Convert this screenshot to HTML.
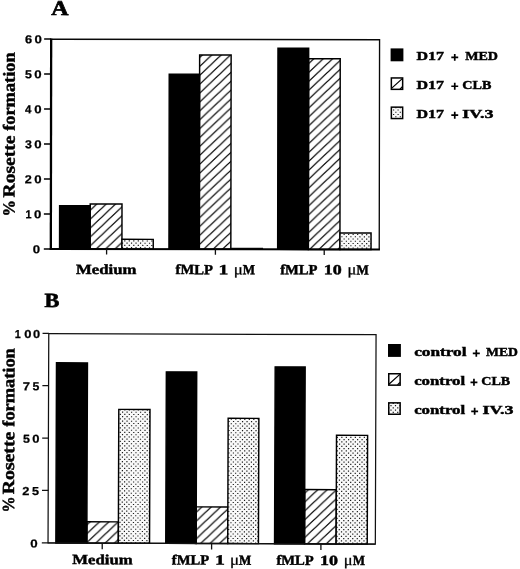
<!DOCTYPE html>
<html><head><meta charset="utf-8"><title>Rosette formation</title>
<style>
html,body{margin:0;padding:0;background:#fff;}
body{width:520px;height:569px;overflow:hidden;font-family:"Liberation Serif",serif;}
svg{display:block;position:absolute;left:0;top:0;}
.sb{font-family:"Liberation Serif",serif;font-weight:bold;fill:#000;stroke:#000;stroke-width:0.45px;}
.sr{font-family:"Liberation Serif",serif;font-weight:normal;fill:#000;stroke:#000;stroke-width:0.3px;}
.tk{font-family:"Liberation Sans",sans-serif;font-weight:bold;fill:#000;stroke:#000;stroke-width:0.25px;}
</style></head><body>
<svg width="520" height="569" viewBox="0 0 520 569" style="will-change:transform">
<defs>
<pattern id="h1" patternUnits="userSpaceOnUse" x="91.6" y="209" width="9.368" height="8.900">
<rect x="-1" y="-1" width="12" height="11" fill="#fff"/>
<path d="M-2,10.800 L11.368,-1.900 M-2,1.900 L2,-1.900 M7.368,10.800 L11.368,7.000" stroke="#000" stroke-width="1.25" fill="none"/>
</pattern>
<pattern id="h2" patternUnits="userSpaceOnUse" x="200" y="65.8" width="9.368" height="8.900">
<rect x="-1" y="-1" width="12" height="11" fill="#fff"/>
<path d="M-2,10.800 L11.368,-1.900 M-2,1.900 L2,-1.900 M7.368,10.800 L11.368,7.000" stroke="#000" stroke-width="1.25" fill="none"/>
</pattern>
<pattern id="h3" patternUnits="userSpaceOnUse" x="309.1" y="62.7" width="9.368" height="8.900">
<rect x="-1" y="-1" width="12" height="11" fill="#fff"/>
<path d="M-2,10.800 L11.368,-1.900 M-2,1.900 L2,-1.900 M7.368,10.800 L11.368,7.000" stroke="#000" stroke-width="1.25" fill="none"/>
</pattern>
<pattern id="h4" patternUnits="userSpaceOnUse" x="87.7" y="533.1" width="9.368" height="8.900">
<rect x="-1" y="-1" width="12" height="11" fill="#fff"/>
<path d="M-2,10.800 L11.368,-1.900 M-2,1.900 L2,-1.900 M7.368,10.800 L11.368,7.000" stroke="#000" stroke-width="1.25" fill="none"/>
</pattern>
<pattern id="h5" patternUnits="userSpaceOnUse" x="197" y="529" width="9.368" height="8.900">
<rect x="-1" y="-1" width="12" height="11" fill="#fff"/>
<path d="M-2,10.800 L11.368,-1.900 M-2,1.900 L2,-1.900 M7.368,10.800 L11.368,7.000" stroke="#000" stroke-width="1.25" fill="none"/>
</pattern>
<pattern id="h6" patternUnits="userSpaceOnUse" x="305.8" y="500.3" width="9.368" height="8.900">
<rect x="-1" y="-1" width="12" height="11" fill="#fff"/>
<path d="M-2,10.800 L11.368,-1.900 M-2,1.900 L2,-1.900 M7.368,10.800 L11.368,7.000" stroke="#000" stroke-width="1.25" fill="none"/>
</pattern>
<pattern id="dots" patternUnits="userSpaceOnUse" x="343.7" y="233.9" width="9" height="9">
<rect x="-1" y="-1" width="11" height="11" fill="#f6f6f6"/>
<g fill="#2a2a2a">
<rect x="0" y="0" width="1.25" height="1.25"/><rect x="4.5" y="0" width="1.25" height="1.25"/>
<rect x="2.25" y="2.25" width="1.25" height="1.25"/><rect x="6.75" y="2.25" width="1.25" height="1.25"/>
<rect x="0" y="4.5" width="1.25" height="1.25"/><rect x="4.5" y="4.5" width="1.25" height="1.25"/>
<rect x="2.25" y="6.75" width="1.25" height="1.25"/><rect x="6.75" y="6.75" width="1.25" height="1.25"/>
</g>
</pattern>
</defs>
<rect width="520" height="569" fill="#fff"/>

<g transform="rotate(0.09 51 144)">
<path d="M51.2,39.2 H379.4 V249" stroke="#080808" stroke-width="1.35" fill="none"/>
<rect x="90.3" y="203.84" width="31.8" height="45.16" fill="url(#h1)" stroke="#000" stroke-width="1.45"/>
<clipPath id="c1"><rect x="122.1" y="239.19" width="31.3" height="9.81"/></clipPath>
<rect x="122.1" y="239.19" width="31.3" height="9.81" fill="#f9f9f9"/>
<path clip-path="url(#c1)" fill="#1a1a1a" d="M124.35,240.23h1.2v1.2h-1.2zM128.85,240.23h1.2v1.2h-1.2zM133.35,240.23h1.2v1.2h-1.2zM137.85,240.23h1.2v1.2h-1.2zM142.35,240.23h1.2v1.2h-1.2zM146.85,240.23h1.2v1.2h-1.2zM151.35,240.23h1.2v1.2h-1.2zM122.1,242.48h1.2v1.2h-1.2zM126.6,242.48h1.2v1.2h-1.2zM131.1,242.48h1.2v1.2h-1.2zM135.6,242.48h1.2v1.2h-1.2zM140.1,242.48h1.2v1.2h-1.2zM144.6,242.48h1.2v1.2h-1.2zM149.1,242.48h1.2v1.2h-1.2zM124.35,244.73h1.2v1.2h-1.2zM128.85,244.73h1.2v1.2h-1.2zM133.35,244.73h1.2v1.2h-1.2zM137.85,244.73h1.2v1.2h-1.2zM142.35,244.73h1.2v1.2h-1.2zM146.85,244.73h1.2v1.2h-1.2zM151.35,244.73h1.2v1.2h-1.2zM122.1,246.98h1.2v1.2h-1.2zM126.6,246.98h1.2v1.2h-1.2zM131.1,246.98h1.2v1.2h-1.2zM135.6,246.98h1.2v1.2h-1.2zM140.1,246.98h1.2v1.2h-1.2zM144.6,246.98h1.2v1.2h-1.2zM149.1,246.98h1.2v1.2h-1.2z"/>
<rect x="122.1" y="239.19" width="31.3" height="9.81" fill="none" stroke="#000" stroke-width="1.45"/>
<rect x="59.73" y="205.69" width="30.57" height="43.31" fill="#000" stroke="#000" stroke-width="1.45"/>
<rect x="199.5" y="54.67" width="31.5" height="194.33" fill="url(#h2)" stroke="#000" stroke-width="1.45"/>
<rect x="230.28" y="247.4" width="32.95" height="1.4" fill="#111"/>
<rect x="169.12" y="73.92" width="30.37" height="175.08" fill="#000" stroke="#000" stroke-width="1.45"/>
<rect x="308.5" y="58.3" width="31.6" height="190.7" fill="url(#h3)" stroke="#000" stroke-width="1.45"/>
<clipPath id="c2"><rect x="340.1" y="232.55" width="31.1" height="16.45"/></clipPath>
<rect x="340.1" y="232.55" width="31.1" height="16.45" fill="#f9f9f9"/>
<path clip-path="url(#c2)" fill="#1a1a1a" d="M339.2,233.44h1.2v1.2h-1.2zM343.7,233.44h1.2v1.2h-1.2zM348.2,233.44h1.2v1.2h-1.2zM352.7,233.44h1.2v1.2h-1.2zM357.2,233.44h1.2v1.2h-1.2zM361.7,233.44h1.2v1.2h-1.2zM366.2,233.44h1.2v1.2h-1.2zM370.7,233.44h1.2v1.2h-1.2zM341.45,235.69h1.2v1.2h-1.2zM345.95,235.69h1.2v1.2h-1.2zM350.45,235.69h1.2v1.2h-1.2zM354.95,235.69h1.2v1.2h-1.2zM359.45,235.69h1.2v1.2h-1.2zM363.95,235.69h1.2v1.2h-1.2zM368.45,235.69h1.2v1.2h-1.2zM339.2,237.94h1.2v1.2h-1.2zM343.7,237.94h1.2v1.2h-1.2zM348.2,237.94h1.2v1.2h-1.2zM352.7,237.94h1.2v1.2h-1.2zM357.2,237.94h1.2v1.2h-1.2zM361.7,237.94h1.2v1.2h-1.2zM366.2,237.94h1.2v1.2h-1.2zM370.7,237.94h1.2v1.2h-1.2zM341.45,240.19h1.2v1.2h-1.2zM345.95,240.19h1.2v1.2h-1.2zM350.45,240.19h1.2v1.2h-1.2zM354.95,240.19h1.2v1.2h-1.2zM359.45,240.19h1.2v1.2h-1.2zM363.95,240.19h1.2v1.2h-1.2zM368.45,240.19h1.2v1.2h-1.2zM339.2,242.44h1.2v1.2h-1.2zM343.7,242.44h1.2v1.2h-1.2zM348.2,242.44h1.2v1.2h-1.2zM352.7,242.44h1.2v1.2h-1.2zM357.2,242.44h1.2v1.2h-1.2zM361.7,242.44h1.2v1.2h-1.2zM366.2,242.44h1.2v1.2h-1.2zM370.7,242.44h1.2v1.2h-1.2zM341.45,244.69h1.2v1.2h-1.2zM345.95,244.69h1.2v1.2h-1.2zM350.45,244.69h1.2v1.2h-1.2zM354.95,244.69h1.2v1.2h-1.2zM359.45,244.69h1.2v1.2h-1.2zM363.95,244.69h1.2v1.2h-1.2zM368.45,244.69h1.2v1.2h-1.2zM339.2,246.94h1.2v1.2h-1.2zM343.7,246.94h1.2v1.2h-1.2zM348.2,246.94h1.2v1.2h-1.2zM352.7,246.94h1.2v1.2h-1.2zM357.2,246.94h1.2v1.2h-1.2zM361.7,246.94h1.2v1.2h-1.2zM366.2,246.94h1.2v1.2h-1.2zM370.7,246.94h1.2v1.2h-1.2z"/>
<rect x="340.1" y="232.55" width="31.1" height="16.45" fill="none" stroke="#000" stroke-width="1.45"/>
<rect x="277.83" y="47.84" width="30.68" height="201.16" fill="#000" stroke="#000" stroke-width="1.45"/>
<rect x="49.85" y="38.4" width="2.3" height="211.6" fill="#000"/>
<rect x="49.9" y="247.9" width="330.2" height="2.1" fill="#000"/>
<rect x="44" y="248.2" width="7" height="1.6" fill="#000"/>
<text transform="translate(32.84,253.35) scale(1.1475,1)" class="tk" font-size="11.5">0</text>
<rect x="44" y="213.2" width="7" height="1.6" fill="#000"/>
<text transform="translate(25.55,218.35) scale(0.9436,1)" class="tk" font-size="11.5">1</text>
<text transform="translate(34.24,218.35) scale(1.1475,1)" class="tk" font-size="11.5">0</text>
<rect x="44" y="178.2" width="7" height="1.6" fill="#000"/>
<text transform="translate(24.82,183.35) scale(1.1003,1)" class="tk" font-size="11.5">2</text>
<text transform="translate(34.24,183.35) scale(1.1475,1)" class="tk" font-size="11.5">0</text>
<rect x="44" y="143.2" width="7" height="1.6" fill="#000"/>
<text transform="translate(24.95,148.35) scale(1.0783,1)" class="tk" font-size="11.5">3</text>
<text transform="translate(34.24,148.35) scale(1.1475,1)" class="tk" font-size="11.5">0</text>
<rect x="44" y="108.2" width="7" height="1.6" fill="#000"/>
<text transform="translate(25.03,113.35) scale(0.9984,1)" class="tk" font-size="11.5">4</text>
<text transform="translate(34.24,113.35) scale(1.1475,1)" class="tk" font-size="11.5">0</text>
<rect x="44" y="73.2" width="7" height="1.6" fill="#000"/>
<text transform="translate(24.83,78.35) scale(1.0783,1)" class="tk" font-size="11.5">5</text>
<text transform="translate(34.24,78.35) scale(1.1475,1)" class="tk" font-size="11.5">0</text>
<rect x="44" y="38.2" width="7" height="1.6" fill="#000"/>
<text transform="translate(24.75,43.35) scale(1.1116,1)" class="tk" font-size="11.5">6</text>
<text transform="translate(34.24,43.35) scale(1.1475,1)" class="tk" font-size="11.5">0</text>
<rect x="106.1" y="249" width="1.3" height="5.5" fill="#111"/>
<rect x="214.95" y="249" width="1.3" height="5.5" fill="#111"/>
<rect x="323.75" y="249" width="1.3" height="5.5" fill="#111"/>
<text transform="translate(50.98,15) scale(1.1335,1)" class="sb" font-size="21" style="stroke-width:0.7px">A</text>
<text transform="translate(76.25,273.9) scale(1.1955,1)" class="sb" font-size="14">Medium</text>
<text transform="translate(175.73,273.9) scale(1.0438,1)" class="sb" font-size="14">fMLP</text>
<text transform="translate(218.82,273.9) scale(1.4093,1)" class="sb" font-size="14">1</text>
<text transform="translate(234.05,273.9) scale(1.0906,1)" class="sr" font-size="15.5">μ</text>
<text transform="translate(243,273.9) scale(0.9313,1)" class="sb" font-size="14">M</text>
<text transform="translate(280.33,273.9) scale(1.0438,1)" class="sb" font-size="14">fMLP</text>
<text transform="translate(323.96,273.9) scale(1.2833,1)" class="sb" font-size="14">10</text>
<text transform="translate(347.69,273.9) scale(1.0599,1)" class="sr" font-size="15.5">μ</text>
<text transform="translate(356.7,273.9) scale(0.9313,1)" class="sb" font-size="14">M</text>
<text transform="translate(14.7,216.55) rotate(-90) scale(0.9731,1)" class="sb" font-size="17">%</text>
<text transform="translate(14.7,197.49) rotate(-90) scale(1.1501,1)" class="sb" font-size="17">Rosette</text>
<text transform="translate(14.7,130.89) rotate(-90) scale(1.0812,1)" class="sb" font-size="17">formation</text>
</g>
<rect x="390.6" y="48.4" width="12.8" height="12.9" fill="#000"/>
<text transform="translate(416.56,60.1) scale(1.2139,1)" class="sb" font-size="13.2">D17</text>
<path d="M451.3,56.55h6.9v1.7h-6.9z M453.9,53.95h1.7v6.9h-1.7z" fill="#000"/>
<text transform="translate(465.19,60.1) scale(1.0679,1)" class="sb" font-size="13.2">MED</text>
<rect x="391.35" y="77.95" width="11.3" height="11.4" fill="#fff" stroke="#000" stroke-width="1.5"/>
<path d="M391.5,88.4 L402.3,78.6 M400,89.1 L402.4,86.7" stroke="#000" stroke-width="1.25"/>
<text transform="translate(416.56,88.95) scale(1.2139,1)" class="sb" font-size="13.2">D17</text>
<path d="M451.3,85.4h6.9v1.7h-6.9z M453.9,82.8h1.7v6.9h-1.7z" fill="#000"/>
<text transform="translate(462.26,88.95) scale(1.0724,1)" class="sb" font-size="13.2">CLB</text>
<clipPath id="c3"><rect x="391.35" y="107.15" width="11.3" height="11.4"/></clipPath>
<rect x="391.35" y="107.15" width="11.3" height="11.4" fill="#f9f9f9"/>
<path clip-path="url(#c3)" fill="#1a1a1a" d="M390.75,107.15h1.2v1.2h-1.2zM395.25,107.15h1.2v1.2h-1.2zM399.75,107.15h1.2v1.2h-1.2zM393,109.4h1.2v1.2h-1.2zM397.5,109.4h1.2v1.2h-1.2zM402,109.4h1.2v1.2h-1.2zM390.75,111.65h1.2v1.2h-1.2zM395.25,111.65h1.2v1.2h-1.2zM399.75,111.65h1.2v1.2h-1.2zM393,113.9h1.2v1.2h-1.2zM397.5,113.9h1.2v1.2h-1.2zM402,113.9h1.2v1.2h-1.2zM390.75,116.15h1.2v1.2h-1.2zM395.25,116.15h1.2v1.2h-1.2zM399.75,116.15h1.2v1.2h-1.2zM393,118.4h1.2v1.2h-1.2zM397.5,118.4h1.2v1.2h-1.2zM402,118.4h1.2v1.2h-1.2z"/>
<rect x="391.35" y="107.15" width="11.3" height="11.4" fill="none" stroke="#000" stroke-width="1.5"/>
<text transform="translate(416.56,117.9) scale(1.2139,1)" class="sb" font-size="13.2">D17</text>
<path d="M451.3,114.35h6.9v1.7h-6.9z M453.9,111.75h1.7v6.9h-1.7z" fill="#000"/>
<text transform="translate(462.36,117.9) scale(1.3609,1)" class="sb" font-size="13.2">IV.3</text>
<g transform="rotate(0.2 48 438)">
<rect x="48.4" y="333.6" width="327.3" height="209.4" fill="none" stroke="#111" stroke-width="1.25"/>
<rect x="87.2" y="521.63" width="31.5" height="21.27" fill="url(#h4)" stroke="#000" stroke-width="1.45"/>
<clipPath id="c4"><rect x="118.7" y="409.12" width="31.2" height="133.78"/></clipPath>
<rect x="118.7" y="409.12" width="31.2" height="133.78" fill="#f9f9f9"/>
<path clip-path="url(#c4)" fill="#1a1a1a" d="M119.65,409.09h1.2v1.2h-1.2zM124.15,409.09h1.2v1.2h-1.2zM128.65,409.09h1.2v1.2h-1.2zM133.15,409.09h1.2v1.2h-1.2zM137.65,409.09h1.2v1.2h-1.2zM142.15,409.09h1.2v1.2h-1.2zM146.65,409.09h1.2v1.2h-1.2zM121.9,411.34h1.2v1.2h-1.2zM126.4,411.34h1.2v1.2h-1.2zM130.9,411.34h1.2v1.2h-1.2zM135.4,411.34h1.2v1.2h-1.2zM139.9,411.34h1.2v1.2h-1.2zM144.4,411.34h1.2v1.2h-1.2zM148.9,411.34h1.2v1.2h-1.2zM119.65,413.59h1.2v1.2h-1.2zM124.15,413.59h1.2v1.2h-1.2zM128.65,413.59h1.2v1.2h-1.2zM133.15,413.59h1.2v1.2h-1.2zM137.65,413.59h1.2v1.2h-1.2zM142.15,413.59h1.2v1.2h-1.2zM146.65,413.59h1.2v1.2h-1.2zM121.9,415.84h1.2v1.2h-1.2zM126.4,415.84h1.2v1.2h-1.2zM130.9,415.84h1.2v1.2h-1.2zM135.4,415.84h1.2v1.2h-1.2zM139.9,415.84h1.2v1.2h-1.2zM144.4,415.84h1.2v1.2h-1.2zM148.9,415.84h1.2v1.2h-1.2zM119.65,418.09h1.2v1.2h-1.2zM124.15,418.09h1.2v1.2h-1.2zM128.65,418.09h1.2v1.2h-1.2zM133.15,418.09h1.2v1.2h-1.2zM137.65,418.09h1.2v1.2h-1.2zM142.15,418.09h1.2v1.2h-1.2zM146.65,418.09h1.2v1.2h-1.2zM121.9,420.34h1.2v1.2h-1.2zM126.4,420.34h1.2v1.2h-1.2zM130.9,420.34h1.2v1.2h-1.2zM135.4,420.34h1.2v1.2h-1.2zM139.9,420.34h1.2v1.2h-1.2zM144.4,420.34h1.2v1.2h-1.2zM148.9,420.34h1.2v1.2h-1.2zM119.65,422.59h1.2v1.2h-1.2zM124.15,422.59h1.2v1.2h-1.2zM128.65,422.59h1.2v1.2h-1.2zM133.15,422.59h1.2v1.2h-1.2zM137.65,422.59h1.2v1.2h-1.2zM142.15,422.59h1.2v1.2h-1.2zM146.65,422.59h1.2v1.2h-1.2zM121.9,424.84h1.2v1.2h-1.2zM126.4,424.84h1.2v1.2h-1.2zM130.9,424.84h1.2v1.2h-1.2zM135.4,424.84h1.2v1.2h-1.2zM139.9,424.84h1.2v1.2h-1.2zM144.4,424.84h1.2v1.2h-1.2zM148.9,424.84h1.2v1.2h-1.2zM119.65,427.09h1.2v1.2h-1.2zM124.15,427.09h1.2v1.2h-1.2zM128.65,427.09h1.2v1.2h-1.2zM133.15,427.09h1.2v1.2h-1.2zM137.65,427.09h1.2v1.2h-1.2zM142.15,427.09h1.2v1.2h-1.2zM146.65,427.09h1.2v1.2h-1.2zM121.9,429.34h1.2v1.2h-1.2zM126.4,429.34h1.2v1.2h-1.2zM130.9,429.34h1.2v1.2h-1.2zM135.4,429.34h1.2v1.2h-1.2zM139.9,429.34h1.2v1.2h-1.2zM144.4,429.34h1.2v1.2h-1.2zM148.9,429.34h1.2v1.2h-1.2zM119.65,431.59h1.2v1.2h-1.2zM124.15,431.59h1.2v1.2h-1.2zM128.65,431.59h1.2v1.2h-1.2zM133.15,431.59h1.2v1.2h-1.2zM137.65,431.59h1.2v1.2h-1.2zM142.15,431.59h1.2v1.2h-1.2zM146.65,431.59h1.2v1.2h-1.2zM121.9,433.84h1.2v1.2h-1.2zM126.4,433.84h1.2v1.2h-1.2zM130.9,433.84h1.2v1.2h-1.2zM135.4,433.84h1.2v1.2h-1.2zM139.9,433.84h1.2v1.2h-1.2zM144.4,433.84h1.2v1.2h-1.2zM148.9,433.84h1.2v1.2h-1.2zM119.65,436.09h1.2v1.2h-1.2zM124.15,436.09h1.2v1.2h-1.2zM128.65,436.09h1.2v1.2h-1.2zM133.15,436.09h1.2v1.2h-1.2zM137.65,436.09h1.2v1.2h-1.2zM142.15,436.09h1.2v1.2h-1.2zM146.65,436.09h1.2v1.2h-1.2zM121.9,438.34h1.2v1.2h-1.2zM126.4,438.34h1.2v1.2h-1.2zM130.9,438.34h1.2v1.2h-1.2zM135.4,438.34h1.2v1.2h-1.2zM139.9,438.34h1.2v1.2h-1.2zM144.4,438.34h1.2v1.2h-1.2zM148.9,438.34h1.2v1.2h-1.2zM119.65,440.59h1.2v1.2h-1.2zM124.15,440.59h1.2v1.2h-1.2zM128.65,440.59h1.2v1.2h-1.2zM133.15,440.59h1.2v1.2h-1.2zM137.65,440.59h1.2v1.2h-1.2zM142.15,440.59h1.2v1.2h-1.2zM146.65,440.59h1.2v1.2h-1.2zM121.9,442.84h1.2v1.2h-1.2zM126.4,442.84h1.2v1.2h-1.2zM130.9,442.84h1.2v1.2h-1.2zM135.4,442.84h1.2v1.2h-1.2zM139.9,442.84h1.2v1.2h-1.2zM144.4,442.84h1.2v1.2h-1.2zM148.9,442.84h1.2v1.2h-1.2zM119.65,445.09h1.2v1.2h-1.2zM124.15,445.09h1.2v1.2h-1.2zM128.65,445.09h1.2v1.2h-1.2zM133.15,445.09h1.2v1.2h-1.2zM137.65,445.09h1.2v1.2h-1.2zM142.15,445.09h1.2v1.2h-1.2zM146.65,445.09h1.2v1.2h-1.2zM121.9,447.34h1.2v1.2h-1.2zM126.4,447.34h1.2v1.2h-1.2zM130.9,447.34h1.2v1.2h-1.2zM135.4,447.34h1.2v1.2h-1.2zM139.9,447.34h1.2v1.2h-1.2zM144.4,447.34h1.2v1.2h-1.2zM148.9,447.34h1.2v1.2h-1.2zM119.65,449.59h1.2v1.2h-1.2zM124.15,449.59h1.2v1.2h-1.2zM128.65,449.59h1.2v1.2h-1.2zM133.15,449.59h1.2v1.2h-1.2zM137.65,449.59h1.2v1.2h-1.2zM142.15,449.59h1.2v1.2h-1.2zM146.65,449.59h1.2v1.2h-1.2zM121.9,451.84h1.2v1.2h-1.2zM126.4,451.84h1.2v1.2h-1.2zM130.9,451.84h1.2v1.2h-1.2zM135.4,451.84h1.2v1.2h-1.2zM139.9,451.84h1.2v1.2h-1.2zM144.4,451.84h1.2v1.2h-1.2zM148.9,451.84h1.2v1.2h-1.2zM119.65,454.09h1.2v1.2h-1.2zM124.15,454.09h1.2v1.2h-1.2zM128.65,454.09h1.2v1.2h-1.2zM133.15,454.09h1.2v1.2h-1.2zM137.65,454.09h1.2v1.2h-1.2zM142.15,454.09h1.2v1.2h-1.2zM146.65,454.09h1.2v1.2h-1.2zM121.9,456.34h1.2v1.2h-1.2zM126.4,456.34h1.2v1.2h-1.2zM130.9,456.34h1.2v1.2h-1.2zM135.4,456.34h1.2v1.2h-1.2zM139.9,456.34h1.2v1.2h-1.2zM144.4,456.34h1.2v1.2h-1.2zM148.9,456.34h1.2v1.2h-1.2zM119.65,458.59h1.2v1.2h-1.2zM124.15,458.59h1.2v1.2h-1.2zM128.65,458.59h1.2v1.2h-1.2zM133.15,458.59h1.2v1.2h-1.2zM137.65,458.59h1.2v1.2h-1.2zM142.15,458.59h1.2v1.2h-1.2zM146.65,458.59h1.2v1.2h-1.2zM121.9,460.84h1.2v1.2h-1.2zM126.4,460.84h1.2v1.2h-1.2zM130.9,460.84h1.2v1.2h-1.2zM135.4,460.84h1.2v1.2h-1.2zM139.9,460.84h1.2v1.2h-1.2zM144.4,460.84h1.2v1.2h-1.2zM148.9,460.84h1.2v1.2h-1.2zM119.65,463.09h1.2v1.2h-1.2zM124.15,463.09h1.2v1.2h-1.2zM128.65,463.09h1.2v1.2h-1.2zM133.15,463.09h1.2v1.2h-1.2zM137.65,463.09h1.2v1.2h-1.2zM142.15,463.09h1.2v1.2h-1.2zM146.65,463.09h1.2v1.2h-1.2zM121.9,465.34h1.2v1.2h-1.2zM126.4,465.34h1.2v1.2h-1.2zM130.9,465.34h1.2v1.2h-1.2zM135.4,465.34h1.2v1.2h-1.2zM139.9,465.34h1.2v1.2h-1.2zM144.4,465.34h1.2v1.2h-1.2zM148.9,465.34h1.2v1.2h-1.2zM119.65,467.59h1.2v1.2h-1.2zM124.15,467.59h1.2v1.2h-1.2zM128.65,467.59h1.2v1.2h-1.2zM133.15,467.59h1.2v1.2h-1.2zM137.65,467.59h1.2v1.2h-1.2zM142.15,467.59h1.2v1.2h-1.2zM146.65,467.59h1.2v1.2h-1.2zM121.9,469.84h1.2v1.2h-1.2zM126.4,469.84h1.2v1.2h-1.2zM130.9,469.84h1.2v1.2h-1.2zM135.4,469.84h1.2v1.2h-1.2zM139.9,469.84h1.2v1.2h-1.2zM144.4,469.84h1.2v1.2h-1.2zM148.9,469.84h1.2v1.2h-1.2zM119.65,472.09h1.2v1.2h-1.2zM124.15,472.09h1.2v1.2h-1.2zM128.65,472.09h1.2v1.2h-1.2zM133.15,472.09h1.2v1.2h-1.2zM137.65,472.09h1.2v1.2h-1.2zM142.15,472.09h1.2v1.2h-1.2zM146.65,472.09h1.2v1.2h-1.2zM121.9,474.34h1.2v1.2h-1.2zM126.4,474.34h1.2v1.2h-1.2zM130.9,474.34h1.2v1.2h-1.2zM135.4,474.34h1.2v1.2h-1.2zM139.9,474.34h1.2v1.2h-1.2zM144.4,474.34h1.2v1.2h-1.2zM148.9,474.34h1.2v1.2h-1.2zM119.65,476.59h1.2v1.2h-1.2zM124.15,476.59h1.2v1.2h-1.2zM128.65,476.59h1.2v1.2h-1.2zM133.15,476.59h1.2v1.2h-1.2zM137.65,476.59h1.2v1.2h-1.2zM142.15,476.59h1.2v1.2h-1.2zM146.65,476.59h1.2v1.2h-1.2zM121.9,478.84h1.2v1.2h-1.2zM126.4,478.84h1.2v1.2h-1.2zM130.9,478.84h1.2v1.2h-1.2zM135.4,478.84h1.2v1.2h-1.2zM139.9,478.84h1.2v1.2h-1.2zM144.4,478.84h1.2v1.2h-1.2zM148.9,478.84h1.2v1.2h-1.2zM119.65,481.09h1.2v1.2h-1.2zM124.15,481.09h1.2v1.2h-1.2zM128.65,481.09h1.2v1.2h-1.2zM133.15,481.09h1.2v1.2h-1.2zM137.65,481.09h1.2v1.2h-1.2zM142.15,481.09h1.2v1.2h-1.2zM146.65,481.09h1.2v1.2h-1.2zM121.9,483.34h1.2v1.2h-1.2zM126.4,483.34h1.2v1.2h-1.2zM130.9,483.34h1.2v1.2h-1.2zM135.4,483.34h1.2v1.2h-1.2zM139.9,483.34h1.2v1.2h-1.2zM144.4,483.34h1.2v1.2h-1.2zM148.9,483.34h1.2v1.2h-1.2zM119.65,485.59h1.2v1.2h-1.2zM124.15,485.59h1.2v1.2h-1.2zM128.65,485.59h1.2v1.2h-1.2zM133.15,485.59h1.2v1.2h-1.2zM137.65,485.59h1.2v1.2h-1.2zM142.15,485.59h1.2v1.2h-1.2zM146.65,485.59h1.2v1.2h-1.2zM121.9,487.84h1.2v1.2h-1.2zM126.4,487.84h1.2v1.2h-1.2zM130.9,487.84h1.2v1.2h-1.2zM135.4,487.84h1.2v1.2h-1.2zM139.9,487.84h1.2v1.2h-1.2zM144.4,487.84h1.2v1.2h-1.2zM148.9,487.84h1.2v1.2h-1.2zM119.65,490.09h1.2v1.2h-1.2zM124.15,490.09h1.2v1.2h-1.2zM128.65,490.09h1.2v1.2h-1.2zM133.15,490.09h1.2v1.2h-1.2zM137.65,490.09h1.2v1.2h-1.2zM142.15,490.09h1.2v1.2h-1.2zM146.65,490.09h1.2v1.2h-1.2zM121.9,492.34h1.2v1.2h-1.2zM126.4,492.34h1.2v1.2h-1.2zM130.9,492.34h1.2v1.2h-1.2zM135.4,492.34h1.2v1.2h-1.2zM139.9,492.34h1.2v1.2h-1.2zM144.4,492.34h1.2v1.2h-1.2zM148.9,492.34h1.2v1.2h-1.2zM119.65,494.59h1.2v1.2h-1.2zM124.15,494.59h1.2v1.2h-1.2zM128.65,494.59h1.2v1.2h-1.2zM133.15,494.59h1.2v1.2h-1.2zM137.65,494.59h1.2v1.2h-1.2zM142.15,494.59h1.2v1.2h-1.2zM146.65,494.59h1.2v1.2h-1.2zM121.9,496.84h1.2v1.2h-1.2zM126.4,496.84h1.2v1.2h-1.2zM130.9,496.84h1.2v1.2h-1.2zM135.4,496.84h1.2v1.2h-1.2zM139.9,496.84h1.2v1.2h-1.2zM144.4,496.84h1.2v1.2h-1.2zM148.9,496.84h1.2v1.2h-1.2zM119.65,499.09h1.2v1.2h-1.2zM124.15,499.09h1.2v1.2h-1.2zM128.65,499.09h1.2v1.2h-1.2zM133.15,499.09h1.2v1.2h-1.2zM137.65,499.09h1.2v1.2h-1.2zM142.15,499.09h1.2v1.2h-1.2zM146.65,499.09h1.2v1.2h-1.2zM121.9,501.34h1.2v1.2h-1.2zM126.4,501.34h1.2v1.2h-1.2zM130.9,501.34h1.2v1.2h-1.2zM135.4,501.34h1.2v1.2h-1.2zM139.9,501.34h1.2v1.2h-1.2zM144.4,501.34h1.2v1.2h-1.2zM148.9,501.34h1.2v1.2h-1.2zM119.65,503.59h1.2v1.2h-1.2zM124.15,503.59h1.2v1.2h-1.2zM128.65,503.59h1.2v1.2h-1.2zM133.15,503.59h1.2v1.2h-1.2zM137.65,503.59h1.2v1.2h-1.2zM142.15,503.59h1.2v1.2h-1.2zM146.65,503.59h1.2v1.2h-1.2zM121.9,505.84h1.2v1.2h-1.2zM126.4,505.84h1.2v1.2h-1.2zM130.9,505.84h1.2v1.2h-1.2zM135.4,505.84h1.2v1.2h-1.2zM139.9,505.84h1.2v1.2h-1.2zM144.4,505.84h1.2v1.2h-1.2zM148.9,505.84h1.2v1.2h-1.2zM119.65,508.09h1.2v1.2h-1.2zM124.15,508.09h1.2v1.2h-1.2zM128.65,508.09h1.2v1.2h-1.2zM133.15,508.09h1.2v1.2h-1.2zM137.65,508.09h1.2v1.2h-1.2zM142.15,508.09h1.2v1.2h-1.2zM146.65,508.09h1.2v1.2h-1.2zM121.9,510.34h1.2v1.2h-1.2zM126.4,510.34h1.2v1.2h-1.2zM130.9,510.34h1.2v1.2h-1.2zM135.4,510.34h1.2v1.2h-1.2zM139.9,510.34h1.2v1.2h-1.2zM144.4,510.34h1.2v1.2h-1.2zM148.9,510.34h1.2v1.2h-1.2zM119.65,512.59h1.2v1.2h-1.2zM124.15,512.59h1.2v1.2h-1.2zM128.65,512.59h1.2v1.2h-1.2zM133.15,512.59h1.2v1.2h-1.2zM137.65,512.59h1.2v1.2h-1.2zM142.15,512.59h1.2v1.2h-1.2zM146.65,512.59h1.2v1.2h-1.2zM121.9,514.84h1.2v1.2h-1.2zM126.4,514.84h1.2v1.2h-1.2zM130.9,514.84h1.2v1.2h-1.2zM135.4,514.84h1.2v1.2h-1.2zM139.9,514.84h1.2v1.2h-1.2zM144.4,514.84h1.2v1.2h-1.2zM148.9,514.84h1.2v1.2h-1.2zM119.65,517.09h1.2v1.2h-1.2zM124.15,517.09h1.2v1.2h-1.2zM128.65,517.09h1.2v1.2h-1.2zM133.15,517.09h1.2v1.2h-1.2zM137.65,517.09h1.2v1.2h-1.2zM142.15,517.09h1.2v1.2h-1.2zM146.65,517.09h1.2v1.2h-1.2zM121.9,519.34h1.2v1.2h-1.2zM126.4,519.34h1.2v1.2h-1.2zM130.9,519.34h1.2v1.2h-1.2zM135.4,519.34h1.2v1.2h-1.2zM139.9,519.34h1.2v1.2h-1.2zM144.4,519.34h1.2v1.2h-1.2zM148.9,519.34h1.2v1.2h-1.2zM119.65,521.59h1.2v1.2h-1.2zM124.15,521.59h1.2v1.2h-1.2zM128.65,521.59h1.2v1.2h-1.2zM133.15,521.59h1.2v1.2h-1.2zM137.65,521.59h1.2v1.2h-1.2zM142.15,521.59h1.2v1.2h-1.2zM146.65,521.59h1.2v1.2h-1.2zM121.9,523.84h1.2v1.2h-1.2zM126.4,523.84h1.2v1.2h-1.2zM130.9,523.84h1.2v1.2h-1.2zM135.4,523.84h1.2v1.2h-1.2zM139.9,523.84h1.2v1.2h-1.2zM144.4,523.84h1.2v1.2h-1.2zM148.9,523.84h1.2v1.2h-1.2zM119.65,526.09h1.2v1.2h-1.2zM124.15,526.09h1.2v1.2h-1.2zM128.65,526.09h1.2v1.2h-1.2zM133.15,526.09h1.2v1.2h-1.2zM137.65,526.09h1.2v1.2h-1.2zM142.15,526.09h1.2v1.2h-1.2zM146.65,526.09h1.2v1.2h-1.2zM121.9,528.34h1.2v1.2h-1.2zM126.4,528.34h1.2v1.2h-1.2zM130.9,528.34h1.2v1.2h-1.2zM135.4,528.34h1.2v1.2h-1.2zM139.9,528.34h1.2v1.2h-1.2zM144.4,528.34h1.2v1.2h-1.2zM148.9,528.34h1.2v1.2h-1.2zM119.65,530.59h1.2v1.2h-1.2zM124.15,530.59h1.2v1.2h-1.2zM128.65,530.59h1.2v1.2h-1.2zM133.15,530.59h1.2v1.2h-1.2zM137.65,530.59h1.2v1.2h-1.2zM142.15,530.59h1.2v1.2h-1.2zM146.65,530.59h1.2v1.2h-1.2zM121.9,532.84h1.2v1.2h-1.2zM126.4,532.84h1.2v1.2h-1.2zM130.9,532.84h1.2v1.2h-1.2zM135.4,532.84h1.2v1.2h-1.2zM139.9,532.84h1.2v1.2h-1.2zM144.4,532.84h1.2v1.2h-1.2zM148.9,532.84h1.2v1.2h-1.2zM119.65,535.09h1.2v1.2h-1.2zM124.15,535.09h1.2v1.2h-1.2zM128.65,535.09h1.2v1.2h-1.2zM133.15,535.09h1.2v1.2h-1.2zM137.65,535.09h1.2v1.2h-1.2zM142.15,535.09h1.2v1.2h-1.2zM146.65,535.09h1.2v1.2h-1.2zM121.9,537.34h1.2v1.2h-1.2zM126.4,537.34h1.2v1.2h-1.2zM130.9,537.34h1.2v1.2h-1.2zM135.4,537.34h1.2v1.2h-1.2zM139.9,537.34h1.2v1.2h-1.2zM144.4,537.34h1.2v1.2h-1.2zM148.9,537.34h1.2v1.2h-1.2zM119.65,539.59h1.2v1.2h-1.2zM124.15,539.59h1.2v1.2h-1.2zM128.65,539.59h1.2v1.2h-1.2zM133.15,539.59h1.2v1.2h-1.2zM137.65,539.59h1.2v1.2h-1.2zM142.15,539.59h1.2v1.2h-1.2zM146.65,539.59h1.2v1.2h-1.2zM121.9,541.84h1.2v1.2h-1.2zM126.4,541.84h1.2v1.2h-1.2zM130.9,541.84h1.2v1.2h-1.2zM135.4,541.84h1.2v1.2h-1.2zM139.9,541.84h1.2v1.2h-1.2zM144.4,541.84h1.2v1.2h-1.2zM148.9,541.84h1.2v1.2h-1.2z"/>
<rect x="118.7" y="409.12" width="31.2" height="133.78" fill="none" stroke="#000" stroke-width="1.45"/>
<rect x="56.23" y="362.74" width="30.97" height="180.16" fill="#000" stroke="#000" stroke-width="1.45"/>
<rect x="196.5" y="506.35" width="31.6" height="36.55" fill="url(#h5)" stroke="#000" stroke-width="1.45"/>
<clipPath id="c5"><rect x="228.1" y="417.64" width="30.7" height="125.26"/></clipPath>
<rect x="228.1" y="417.64" width="30.7" height="125.26" fill="#f9f9f9"/>
<path clip-path="url(#c5)" fill="#1a1a1a" d="M230.65,418h1.2v1.2h-1.2zM235.15,418h1.2v1.2h-1.2zM239.65,418h1.2v1.2h-1.2zM244.15,418h1.2v1.2h-1.2zM248.65,418h1.2v1.2h-1.2zM253.15,418h1.2v1.2h-1.2zM257.65,418h1.2v1.2h-1.2zM228.4,420.25h1.2v1.2h-1.2zM232.9,420.25h1.2v1.2h-1.2zM237.4,420.25h1.2v1.2h-1.2zM241.9,420.25h1.2v1.2h-1.2zM246.4,420.25h1.2v1.2h-1.2zM250.9,420.25h1.2v1.2h-1.2zM255.4,420.25h1.2v1.2h-1.2zM230.65,422.5h1.2v1.2h-1.2zM235.15,422.5h1.2v1.2h-1.2zM239.65,422.5h1.2v1.2h-1.2zM244.15,422.5h1.2v1.2h-1.2zM248.65,422.5h1.2v1.2h-1.2zM253.15,422.5h1.2v1.2h-1.2zM257.65,422.5h1.2v1.2h-1.2zM228.4,424.75h1.2v1.2h-1.2zM232.9,424.75h1.2v1.2h-1.2zM237.4,424.75h1.2v1.2h-1.2zM241.9,424.75h1.2v1.2h-1.2zM246.4,424.75h1.2v1.2h-1.2zM250.9,424.75h1.2v1.2h-1.2zM255.4,424.75h1.2v1.2h-1.2zM230.65,427h1.2v1.2h-1.2zM235.15,427h1.2v1.2h-1.2zM239.65,427h1.2v1.2h-1.2zM244.15,427h1.2v1.2h-1.2zM248.65,427h1.2v1.2h-1.2zM253.15,427h1.2v1.2h-1.2zM257.65,427h1.2v1.2h-1.2zM228.4,429.25h1.2v1.2h-1.2zM232.9,429.25h1.2v1.2h-1.2zM237.4,429.25h1.2v1.2h-1.2zM241.9,429.25h1.2v1.2h-1.2zM246.4,429.25h1.2v1.2h-1.2zM250.9,429.25h1.2v1.2h-1.2zM255.4,429.25h1.2v1.2h-1.2zM230.65,431.5h1.2v1.2h-1.2zM235.15,431.5h1.2v1.2h-1.2zM239.65,431.5h1.2v1.2h-1.2zM244.15,431.5h1.2v1.2h-1.2zM248.65,431.5h1.2v1.2h-1.2zM253.15,431.5h1.2v1.2h-1.2zM257.65,431.5h1.2v1.2h-1.2zM228.4,433.75h1.2v1.2h-1.2zM232.9,433.75h1.2v1.2h-1.2zM237.4,433.75h1.2v1.2h-1.2zM241.9,433.75h1.2v1.2h-1.2zM246.4,433.75h1.2v1.2h-1.2zM250.9,433.75h1.2v1.2h-1.2zM255.4,433.75h1.2v1.2h-1.2zM230.65,436h1.2v1.2h-1.2zM235.15,436h1.2v1.2h-1.2zM239.65,436h1.2v1.2h-1.2zM244.15,436h1.2v1.2h-1.2zM248.65,436h1.2v1.2h-1.2zM253.15,436h1.2v1.2h-1.2zM257.65,436h1.2v1.2h-1.2zM228.4,438.25h1.2v1.2h-1.2zM232.9,438.25h1.2v1.2h-1.2zM237.4,438.25h1.2v1.2h-1.2zM241.9,438.25h1.2v1.2h-1.2zM246.4,438.25h1.2v1.2h-1.2zM250.9,438.25h1.2v1.2h-1.2zM255.4,438.25h1.2v1.2h-1.2zM230.65,440.5h1.2v1.2h-1.2zM235.15,440.5h1.2v1.2h-1.2zM239.65,440.5h1.2v1.2h-1.2zM244.15,440.5h1.2v1.2h-1.2zM248.65,440.5h1.2v1.2h-1.2zM253.15,440.5h1.2v1.2h-1.2zM257.65,440.5h1.2v1.2h-1.2zM228.4,442.75h1.2v1.2h-1.2zM232.9,442.75h1.2v1.2h-1.2zM237.4,442.75h1.2v1.2h-1.2zM241.9,442.75h1.2v1.2h-1.2zM246.4,442.75h1.2v1.2h-1.2zM250.9,442.75h1.2v1.2h-1.2zM255.4,442.75h1.2v1.2h-1.2zM230.65,445h1.2v1.2h-1.2zM235.15,445h1.2v1.2h-1.2zM239.65,445h1.2v1.2h-1.2zM244.15,445h1.2v1.2h-1.2zM248.65,445h1.2v1.2h-1.2zM253.15,445h1.2v1.2h-1.2zM257.65,445h1.2v1.2h-1.2zM228.4,447.25h1.2v1.2h-1.2zM232.9,447.25h1.2v1.2h-1.2zM237.4,447.25h1.2v1.2h-1.2zM241.9,447.25h1.2v1.2h-1.2zM246.4,447.25h1.2v1.2h-1.2zM250.9,447.25h1.2v1.2h-1.2zM255.4,447.25h1.2v1.2h-1.2zM230.65,449.5h1.2v1.2h-1.2zM235.15,449.5h1.2v1.2h-1.2zM239.65,449.5h1.2v1.2h-1.2zM244.15,449.5h1.2v1.2h-1.2zM248.65,449.5h1.2v1.2h-1.2zM253.15,449.5h1.2v1.2h-1.2zM257.65,449.5h1.2v1.2h-1.2zM228.4,451.75h1.2v1.2h-1.2zM232.9,451.75h1.2v1.2h-1.2zM237.4,451.75h1.2v1.2h-1.2zM241.9,451.75h1.2v1.2h-1.2zM246.4,451.75h1.2v1.2h-1.2zM250.9,451.75h1.2v1.2h-1.2zM255.4,451.75h1.2v1.2h-1.2zM230.65,454h1.2v1.2h-1.2zM235.15,454h1.2v1.2h-1.2zM239.65,454h1.2v1.2h-1.2zM244.15,454h1.2v1.2h-1.2zM248.65,454h1.2v1.2h-1.2zM253.15,454h1.2v1.2h-1.2zM257.65,454h1.2v1.2h-1.2zM228.4,456.25h1.2v1.2h-1.2zM232.9,456.25h1.2v1.2h-1.2zM237.4,456.25h1.2v1.2h-1.2zM241.9,456.25h1.2v1.2h-1.2zM246.4,456.25h1.2v1.2h-1.2zM250.9,456.25h1.2v1.2h-1.2zM255.4,456.25h1.2v1.2h-1.2zM230.65,458.5h1.2v1.2h-1.2zM235.15,458.5h1.2v1.2h-1.2zM239.65,458.5h1.2v1.2h-1.2zM244.15,458.5h1.2v1.2h-1.2zM248.65,458.5h1.2v1.2h-1.2zM253.15,458.5h1.2v1.2h-1.2zM257.65,458.5h1.2v1.2h-1.2zM228.4,460.75h1.2v1.2h-1.2zM232.9,460.75h1.2v1.2h-1.2zM237.4,460.75h1.2v1.2h-1.2zM241.9,460.75h1.2v1.2h-1.2zM246.4,460.75h1.2v1.2h-1.2zM250.9,460.75h1.2v1.2h-1.2zM255.4,460.75h1.2v1.2h-1.2zM230.65,463h1.2v1.2h-1.2zM235.15,463h1.2v1.2h-1.2zM239.65,463h1.2v1.2h-1.2zM244.15,463h1.2v1.2h-1.2zM248.65,463h1.2v1.2h-1.2zM253.15,463h1.2v1.2h-1.2zM257.65,463h1.2v1.2h-1.2zM228.4,465.25h1.2v1.2h-1.2zM232.9,465.25h1.2v1.2h-1.2zM237.4,465.25h1.2v1.2h-1.2zM241.9,465.25h1.2v1.2h-1.2zM246.4,465.25h1.2v1.2h-1.2zM250.9,465.25h1.2v1.2h-1.2zM255.4,465.25h1.2v1.2h-1.2zM230.65,467.5h1.2v1.2h-1.2zM235.15,467.5h1.2v1.2h-1.2zM239.65,467.5h1.2v1.2h-1.2zM244.15,467.5h1.2v1.2h-1.2zM248.65,467.5h1.2v1.2h-1.2zM253.15,467.5h1.2v1.2h-1.2zM257.65,467.5h1.2v1.2h-1.2zM228.4,469.75h1.2v1.2h-1.2zM232.9,469.75h1.2v1.2h-1.2zM237.4,469.75h1.2v1.2h-1.2zM241.9,469.75h1.2v1.2h-1.2zM246.4,469.75h1.2v1.2h-1.2zM250.9,469.75h1.2v1.2h-1.2zM255.4,469.75h1.2v1.2h-1.2zM230.65,472h1.2v1.2h-1.2zM235.15,472h1.2v1.2h-1.2zM239.65,472h1.2v1.2h-1.2zM244.15,472h1.2v1.2h-1.2zM248.65,472h1.2v1.2h-1.2zM253.15,472h1.2v1.2h-1.2zM257.65,472h1.2v1.2h-1.2zM228.4,474.25h1.2v1.2h-1.2zM232.9,474.25h1.2v1.2h-1.2zM237.4,474.25h1.2v1.2h-1.2zM241.9,474.25h1.2v1.2h-1.2zM246.4,474.25h1.2v1.2h-1.2zM250.9,474.25h1.2v1.2h-1.2zM255.4,474.25h1.2v1.2h-1.2zM230.65,476.5h1.2v1.2h-1.2zM235.15,476.5h1.2v1.2h-1.2zM239.65,476.5h1.2v1.2h-1.2zM244.15,476.5h1.2v1.2h-1.2zM248.65,476.5h1.2v1.2h-1.2zM253.15,476.5h1.2v1.2h-1.2zM257.65,476.5h1.2v1.2h-1.2zM228.4,478.75h1.2v1.2h-1.2zM232.9,478.75h1.2v1.2h-1.2zM237.4,478.75h1.2v1.2h-1.2zM241.9,478.75h1.2v1.2h-1.2zM246.4,478.75h1.2v1.2h-1.2zM250.9,478.75h1.2v1.2h-1.2zM255.4,478.75h1.2v1.2h-1.2zM230.65,481h1.2v1.2h-1.2zM235.15,481h1.2v1.2h-1.2zM239.65,481h1.2v1.2h-1.2zM244.15,481h1.2v1.2h-1.2zM248.65,481h1.2v1.2h-1.2zM253.15,481h1.2v1.2h-1.2zM257.65,481h1.2v1.2h-1.2zM228.4,483.25h1.2v1.2h-1.2zM232.9,483.25h1.2v1.2h-1.2zM237.4,483.25h1.2v1.2h-1.2zM241.9,483.25h1.2v1.2h-1.2zM246.4,483.25h1.2v1.2h-1.2zM250.9,483.25h1.2v1.2h-1.2zM255.4,483.25h1.2v1.2h-1.2zM230.65,485.5h1.2v1.2h-1.2zM235.15,485.5h1.2v1.2h-1.2zM239.65,485.5h1.2v1.2h-1.2zM244.15,485.5h1.2v1.2h-1.2zM248.65,485.5h1.2v1.2h-1.2zM253.15,485.5h1.2v1.2h-1.2zM257.65,485.5h1.2v1.2h-1.2zM228.4,487.75h1.2v1.2h-1.2zM232.9,487.75h1.2v1.2h-1.2zM237.4,487.75h1.2v1.2h-1.2zM241.9,487.75h1.2v1.2h-1.2zM246.4,487.75h1.2v1.2h-1.2zM250.9,487.75h1.2v1.2h-1.2zM255.4,487.75h1.2v1.2h-1.2zM230.65,490h1.2v1.2h-1.2zM235.15,490h1.2v1.2h-1.2zM239.65,490h1.2v1.2h-1.2zM244.15,490h1.2v1.2h-1.2zM248.65,490h1.2v1.2h-1.2zM253.15,490h1.2v1.2h-1.2zM257.65,490h1.2v1.2h-1.2zM228.4,492.25h1.2v1.2h-1.2zM232.9,492.25h1.2v1.2h-1.2zM237.4,492.25h1.2v1.2h-1.2zM241.9,492.25h1.2v1.2h-1.2zM246.4,492.25h1.2v1.2h-1.2zM250.9,492.25h1.2v1.2h-1.2zM255.4,492.25h1.2v1.2h-1.2zM230.65,494.5h1.2v1.2h-1.2zM235.15,494.5h1.2v1.2h-1.2zM239.65,494.5h1.2v1.2h-1.2zM244.15,494.5h1.2v1.2h-1.2zM248.65,494.5h1.2v1.2h-1.2zM253.15,494.5h1.2v1.2h-1.2zM257.65,494.5h1.2v1.2h-1.2zM228.4,496.75h1.2v1.2h-1.2zM232.9,496.75h1.2v1.2h-1.2zM237.4,496.75h1.2v1.2h-1.2zM241.9,496.75h1.2v1.2h-1.2zM246.4,496.75h1.2v1.2h-1.2zM250.9,496.75h1.2v1.2h-1.2zM255.4,496.75h1.2v1.2h-1.2zM230.65,499h1.2v1.2h-1.2zM235.15,499h1.2v1.2h-1.2zM239.65,499h1.2v1.2h-1.2zM244.15,499h1.2v1.2h-1.2zM248.65,499h1.2v1.2h-1.2zM253.15,499h1.2v1.2h-1.2zM257.65,499h1.2v1.2h-1.2zM228.4,501.25h1.2v1.2h-1.2zM232.9,501.25h1.2v1.2h-1.2zM237.4,501.25h1.2v1.2h-1.2zM241.9,501.25h1.2v1.2h-1.2zM246.4,501.25h1.2v1.2h-1.2zM250.9,501.25h1.2v1.2h-1.2zM255.4,501.25h1.2v1.2h-1.2zM230.65,503.5h1.2v1.2h-1.2zM235.15,503.5h1.2v1.2h-1.2zM239.65,503.5h1.2v1.2h-1.2zM244.15,503.5h1.2v1.2h-1.2zM248.65,503.5h1.2v1.2h-1.2zM253.15,503.5h1.2v1.2h-1.2zM257.65,503.5h1.2v1.2h-1.2zM228.4,505.75h1.2v1.2h-1.2zM232.9,505.75h1.2v1.2h-1.2zM237.4,505.75h1.2v1.2h-1.2zM241.9,505.75h1.2v1.2h-1.2zM246.4,505.75h1.2v1.2h-1.2zM250.9,505.75h1.2v1.2h-1.2zM255.4,505.75h1.2v1.2h-1.2zM230.65,508h1.2v1.2h-1.2zM235.15,508h1.2v1.2h-1.2zM239.65,508h1.2v1.2h-1.2zM244.15,508h1.2v1.2h-1.2zM248.65,508h1.2v1.2h-1.2zM253.15,508h1.2v1.2h-1.2zM257.65,508h1.2v1.2h-1.2zM228.4,510.25h1.2v1.2h-1.2zM232.9,510.25h1.2v1.2h-1.2zM237.4,510.25h1.2v1.2h-1.2zM241.9,510.25h1.2v1.2h-1.2zM246.4,510.25h1.2v1.2h-1.2zM250.9,510.25h1.2v1.2h-1.2zM255.4,510.25h1.2v1.2h-1.2zM230.65,512.5h1.2v1.2h-1.2zM235.15,512.5h1.2v1.2h-1.2zM239.65,512.5h1.2v1.2h-1.2zM244.15,512.5h1.2v1.2h-1.2zM248.65,512.5h1.2v1.2h-1.2zM253.15,512.5h1.2v1.2h-1.2zM257.65,512.5h1.2v1.2h-1.2zM228.4,514.75h1.2v1.2h-1.2zM232.9,514.75h1.2v1.2h-1.2zM237.4,514.75h1.2v1.2h-1.2zM241.9,514.75h1.2v1.2h-1.2zM246.4,514.75h1.2v1.2h-1.2zM250.9,514.75h1.2v1.2h-1.2zM255.4,514.75h1.2v1.2h-1.2zM230.65,517h1.2v1.2h-1.2zM235.15,517h1.2v1.2h-1.2zM239.65,517h1.2v1.2h-1.2zM244.15,517h1.2v1.2h-1.2zM248.65,517h1.2v1.2h-1.2zM253.15,517h1.2v1.2h-1.2zM257.65,517h1.2v1.2h-1.2zM228.4,519.25h1.2v1.2h-1.2zM232.9,519.25h1.2v1.2h-1.2zM237.4,519.25h1.2v1.2h-1.2zM241.9,519.25h1.2v1.2h-1.2zM246.4,519.25h1.2v1.2h-1.2zM250.9,519.25h1.2v1.2h-1.2zM255.4,519.25h1.2v1.2h-1.2zM230.65,521.5h1.2v1.2h-1.2zM235.15,521.5h1.2v1.2h-1.2zM239.65,521.5h1.2v1.2h-1.2zM244.15,521.5h1.2v1.2h-1.2zM248.65,521.5h1.2v1.2h-1.2zM253.15,521.5h1.2v1.2h-1.2zM257.65,521.5h1.2v1.2h-1.2zM228.4,523.75h1.2v1.2h-1.2zM232.9,523.75h1.2v1.2h-1.2zM237.4,523.75h1.2v1.2h-1.2zM241.9,523.75h1.2v1.2h-1.2zM246.4,523.75h1.2v1.2h-1.2zM250.9,523.75h1.2v1.2h-1.2zM255.4,523.75h1.2v1.2h-1.2zM230.65,526h1.2v1.2h-1.2zM235.15,526h1.2v1.2h-1.2zM239.65,526h1.2v1.2h-1.2zM244.15,526h1.2v1.2h-1.2zM248.65,526h1.2v1.2h-1.2zM253.15,526h1.2v1.2h-1.2zM257.65,526h1.2v1.2h-1.2zM228.4,528.25h1.2v1.2h-1.2zM232.9,528.25h1.2v1.2h-1.2zM237.4,528.25h1.2v1.2h-1.2zM241.9,528.25h1.2v1.2h-1.2zM246.4,528.25h1.2v1.2h-1.2zM250.9,528.25h1.2v1.2h-1.2zM255.4,528.25h1.2v1.2h-1.2zM230.65,530.5h1.2v1.2h-1.2zM235.15,530.5h1.2v1.2h-1.2zM239.65,530.5h1.2v1.2h-1.2zM244.15,530.5h1.2v1.2h-1.2zM248.65,530.5h1.2v1.2h-1.2zM253.15,530.5h1.2v1.2h-1.2zM257.65,530.5h1.2v1.2h-1.2zM228.4,532.75h1.2v1.2h-1.2zM232.9,532.75h1.2v1.2h-1.2zM237.4,532.75h1.2v1.2h-1.2zM241.9,532.75h1.2v1.2h-1.2zM246.4,532.75h1.2v1.2h-1.2zM250.9,532.75h1.2v1.2h-1.2zM255.4,532.75h1.2v1.2h-1.2zM230.65,535h1.2v1.2h-1.2zM235.15,535h1.2v1.2h-1.2zM239.65,535h1.2v1.2h-1.2zM244.15,535h1.2v1.2h-1.2zM248.65,535h1.2v1.2h-1.2zM253.15,535h1.2v1.2h-1.2zM257.65,535h1.2v1.2h-1.2zM228.4,537.25h1.2v1.2h-1.2zM232.9,537.25h1.2v1.2h-1.2zM237.4,537.25h1.2v1.2h-1.2zM241.9,537.25h1.2v1.2h-1.2zM246.4,537.25h1.2v1.2h-1.2zM250.9,537.25h1.2v1.2h-1.2zM255.4,537.25h1.2v1.2h-1.2zM230.65,539.5h1.2v1.2h-1.2zM235.15,539.5h1.2v1.2h-1.2zM239.65,539.5h1.2v1.2h-1.2zM244.15,539.5h1.2v1.2h-1.2zM248.65,539.5h1.2v1.2h-1.2zM253.15,539.5h1.2v1.2h-1.2zM257.65,539.5h1.2v1.2h-1.2zM228.4,541.75h1.2v1.2h-1.2zM232.9,541.75h1.2v1.2h-1.2zM237.4,541.75h1.2v1.2h-1.2zM241.9,541.75h1.2v1.2h-1.2zM246.4,541.75h1.2v1.2h-1.2zM250.9,541.75h1.2v1.2h-1.2zM255.4,541.75h1.2v1.2h-1.2z"/>
<rect x="228.1" y="417.64" width="30.7" height="125.26" fill="none" stroke="#000" stroke-width="1.45"/>
<rect x="166.12" y="371.46" width="30.37" height="171.44" fill="#000" stroke="#000" stroke-width="1.45"/>
<rect x="304.9" y="488.67" width="31.6" height="54.23" fill="url(#h6)" stroke="#000" stroke-width="1.45"/>
<clipPath id="c6"><rect x="336.5" y="434.26" width="31.1" height="108.64"/></clipPath>
<rect x="336.5" y="434.26" width="31.1" height="108.64" fill="#f9f9f9"/>
<path clip-path="url(#c6)" fill="#1a1a1a" d="M339,433.42h1.2v1.2h-1.2zM343.5,433.42h1.2v1.2h-1.2zM348,433.42h1.2v1.2h-1.2zM352.5,433.42h1.2v1.2h-1.2zM357,433.42h1.2v1.2h-1.2zM361.5,433.42h1.2v1.2h-1.2zM366,433.42h1.2v1.2h-1.2zM336.75,435.67h1.2v1.2h-1.2zM341.25,435.67h1.2v1.2h-1.2zM345.75,435.67h1.2v1.2h-1.2zM350.25,435.67h1.2v1.2h-1.2zM354.75,435.67h1.2v1.2h-1.2zM359.25,435.67h1.2v1.2h-1.2zM363.75,435.67h1.2v1.2h-1.2zM339,437.92h1.2v1.2h-1.2zM343.5,437.92h1.2v1.2h-1.2zM348,437.92h1.2v1.2h-1.2zM352.5,437.92h1.2v1.2h-1.2zM357,437.92h1.2v1.2h-1.2zM361.5,437.92h1.2v1.2h-1.2zM366,437.92h1.2v1.2h-1.2zM336.75,440.17h1.2v1.2h-1.2zM341.25,440.17h1.2v1.2h-1.2zM345.75,440.17h1.2v1.2h-1.2zM350.25,440.17h1.2v1.2h-1.2zM354.75,440.17h1.2v1.2h-1.2zM359.25,440.17h1.2v1.2h-1.2zM363.75,440.17h1.2v1.2h-1.2zM339,442.42h1.2v1.2h-1.2zM343.5,442.42h1.2v1.2h-1.2zM348,442.42h1.2v1.2h-1.2zM352.5,442.42h1.2v1.2h-1.2zM357,442.42h1.2v1.2h-1.2zM361.5,442.42h1.2v1.2h-1.2zM366,442.42h1.2v1.2h-1.2zM336.75,444.67h1.2v1.2h-1.2zM341.25,444.67h1.2v1.2h-1.2zM345.75,444.67h1.2v1.2h-1.2zM350.25,444.67h1.2v1.2h-1.2zM354.75,444.67h1.2v1.2h-1.2zM359.25,444.67h1.2v1.2h-1.2zM363.75,444.67h1.2v1.2h-1.2zM339,446.92h1.2v1.2h-1.2zM343.5,446.92h1.2v1.2h-1.2zM348,446.92h1.2v1.2h-1.2zM352.5,446.92h1.2v1.2h-1.2zM357,446.92h1.2v1.2h-1.2zM361.5,446.92h1.2v1.2h-1.2zM366,446.92h1.2v1.2h-1.2zM336.75,449.17h1.2v1.2h-1.2zM341.25,449.17h1.2v1.2h-1.2zM345.75,449.17h1.2v1.2h-1.2zM350.25,449.17h1.2v1.2h-1.2zM354.75,449.17h1.2v1.2h-1.2zM359.25,449.17h1.2v1.2h-1.2zM363.75,449.17h1.2v1.2h-1.2zM339,451.42h1.2v1.2h-1.2zM343.5,451.42h1.2v1.2h-1.2zM348,451.42h1.2v1.2h-1.2zM352.5,451.42h1.2v1.2h-1.2zM357,451.42h1.2v1.2h-1.2zM361.5,451.42h1.2v1.2h-1.2zM366,451.42h1.2v1.2h-1.2zM336.75,453.67h1.2v1.2h-1.2zM341.25,453.67h1.2v1.2h-1.2zM345.75,453.67h1.2v1.2h-1.2zM350.25,453.67h1.2v1.2h-1.2zM354.75,453.67h1.2v1.2h-1.2zM359.25,453.67h1.2v1.2h-1.2zM363.75,453.67h1.2v1.2h-1.2zM339,455.92h1.2v1.2h-1.2zM343.5,455.92h1.2v1.2h-1.2zM348,455.92h1.2v1.2h-1.2zM352.5,455.92h1.2v1.2h-1.2zM357,455.92h1.2v1.2h-1.2zM361.5,455.92h1.2v1.2h-1.2zM366,455.92h1.2v1.2h-1.2zM336.75,458.17h1.2v1.2h-1.2zM341.25,458.17h1.2v1.2h-1.2zM345.75,458.17h1.2v1.2h-1.2zM350.25,458.17h1.2v1.2h-1.2zM354.75,458.17h1.2v1.2h-1.2zM359.25,458.17h1.2v1.2h-1.2zM363.75,458.17h1.2v1.2h-1.2zM339,460.42h1.2v1.2h-1.2zM343.5,460.42h1.2v1.2h-1.2zM348,460.42h1.2v1.2h-1.2zM352.5,460.42h1.2v1.2h-1.2zM357,460.42h1.2v1.2h-1.2zM361.5,460.42h1.2v1.2h-1.2zM366,460.42h1.2v1.2h-1.2zM336.75,462.67h1.2v1.2h-1.2zM341.25,462.67h1.2v1.2h-1.2zM345.75,462.67h1.2v1.2h-1.2zM350.25,462.67h1.2v1.2h-1.2zM354.75,462.67h1.2v1.2h-1.2zM359.25,462.67h1.2v1.2h-1.2zM363.75,462.67h1.2v1.2h-1.2zM339,464.92h1.2v1.2h-1.2zM343.5,464.92h1.2v1.2h-1.2zM348,464.92h1.2v1.2h-1.2zM352.5,464.92h1.2v1.2h-1.2zM357,464.92h1.2v1.2h-1.2zM361.5,464.92h1.2v1.2h-1.2zM366,464.92h1.2v1.2h-1.2zM336.75,467.17h1.2v1.2h-1.2zM341.25,467.17h1.2v1.2h-1.2zM345.75,467.17h1.2v1.2h-1.2zM350.25,467.17h1.2v1.2h-1.2zM354.75,467.17h1.2v1.2h-1.2zM359.25,467.17h1.2v1.2h-1.2zM363.75,467.17h1.2v1.2h-1.2zM339,469.42h1.2v1.2h-1.2zM343.5,469.42h1.2v1.2h-1.2zM348,469.42h1.2v1.2h-1.2zM352.5,469.42h1.2v1.2h-1.2zM357,469.42h1.2v1.2h-1.2zM361.5,469.42h1.2v1.2h-1.2zM366,469.42h1.2v1.2h-1.2zM336.75,471.67h1.2v1.2h-1.2zM341.25,471.67h1.2v1.2h-1.2zM345.75,471.67h1.2v1.2h-1.2zM350.25,471.67h1.2v1.2h-1.2zM354.75,471.67h1.2v1.2h-1.2zM359.25,471.67h1.2v1.2h-1.2zM363.75,471.67h1.2v1.2h-1.2zM339,473.92h1.2v1.2h-1.2zM343.5,473.92h1.2v1.2h-1.2zM348,473.92h1.2v1.2h-1.2zM352.5,473.92h1.2v1.2h-1.2zM357,473.92h1.2v1.2h-1.2zM361.5,473.92h1.2v1.2h-1.2zM366,473.92h1.2v1.2h-1.2zM336.75,476.17h1.2v1.2h-1.2zM341.25,476.17h1.2v1.2h-1.2zM345.75,476.17h1.2v1.2h-1.2zM350.25,476.17h1.2v1.2h-1.2zM354.75,476.17h1.2v1.2h-1.2zM359.25,476.17h1.2v1.2h-1.2zM363.75,476.17h1.2v1.2h-1.2zM339,478.42h1.2v1.2h-1.2zM343.5,478.42h1.2v1.2h-1.2zM348,478.42h1.2v1.2h-1.2zM352.5,478.42h1.2v1.2h-1.2zM357,478.42h1.2v1.2h-1.2zM361.5,478.42h1.2v1.2h-1.2zM366,478.42h1.2v1.2h-1.2zM336.75,480.67h1.2v1.2h-1.2zM341.25,480.67h1.2v1.2h-1.2zM345.75,480.67h1.2v1.2h-1.2zM350.25,480.67h1.2v1.2h-1.2zM354.75,480.67h1.2v1.2h-1.2zM359.25,480.67h1.2v1.2h-1.2zM363.75,480.67h1.2v1.2h-1.2zM339,482.92h1.2v1.2h-1.2zM343.5,482.92h1.2v1.2h-1.2zM348,482.92h1.2v1.2h-1.2zM352.5,482.92h1.2v1.2h-1.2zM357,482.92h1.2v1.2h-1.2zM361.5,482.92h1.2v1.2h-1.2zM366,482.92h1.2v1.2h-1.2zM336.75,485.17h1.2v1.2h-1.2zM341.25,485.17h1.2v1.2h-1.2zM345.75,485.17h1.2v1.2h-1.2zM350.25,485.17h1.2v1.2h-1.2zM354.75,485.17h1.2v1.2h-1.2zM359.25,485.17h1.2v1.2h-1.2zM363.75,485.17h1.2v1.2h-1.2zM339,487.42h1.2v1.2h-1.2zM343.5,487.42h1.2v1.2h-1.2zM348,487.42h1.2v1.2h-1.2zM352.5,487.42h1.2v1.2h-1.2zM357,487.42h1.2v1.2h-1.2zM361.5,487.42h1.2v1.2h-1.2zM366,487.42h1.2v1.2h-1.2zM336.75,489.67h1.2v1.2h-1.2zM341.25,489.67h1.2v1.2h-1.2zM345.75,489.67h1.2v1.2h-1.2zM350.25,489.67h1.2v1.2h-1.2zM354.75,489.67h1.2v1.2h-1.2zM359.25,489.67h1.2v1.2h-1.2zM363.75,489.67h1.2v1.2h-1.2zM339,491.92h1.2v1.2h-1.2zM343.5,491.92h1.2v1.2h-1.2zM348,491.92h1.2v1.2h-1.2zM352.5,491.92h1.2v1.2h-1.2zM357,491.92h1.2v1.2h-1.2zM361.5,491.92h1.2v1.2h-1.2zM366,491.92h1.2v1.2h-1.2zM336.75,494.17h1.2v1.2h-1.2zM341.25,494.17h1.2v1.2h-1.2zM345.75,494.17h1.2v1.2h-1.2zM350.25,494.17h1.2v1.2h-1.2zM354.75,494.17h1.2v1.2h-1.2zM359.25,494.17h1.2v1.2h-1.2zM363.75,494.17h1.2v1.2h-1.2zM339,496.42h1.2v1.2h-1.2zM343.5,496.42h1.2v1.2h-1.2zM348,496.42h1.2v1.2h-1.2zM352.5,496.42h1.2v1.2h-1.2zM357,496.42h1.2v1.2h-1.2zM361.5,496.42h1.2v1.2h-1.2zM366,496.42h1.2v1.2h-1.2zM336.75,498.67h1.2v1.2h-1.2zM341.25,498.67h1.2v1.2h-1.2zM345.75,498.67h1.2v1.2h-1.2zM350.25,498.67h1.2v1.2h-1.2zM354.75,498.67h1.2v1.2h-1.2zM359.25,498.67h1.2v1.2h-1.2zM363.75,498.67h1.2v1.2h-1.2zM339,500.92h1.2v1.2h-1.2zM343.5,500.92h1.2v1.2h-1.2zM348,500.92h1.2v1.2h-1.2zM352.5,500.92h1.2v1.2h-1.2zM357,500.92h1.2v1.2h-1.2zM361.5,500.92h1.2v1.2h-1.2zM366,500.92h1.2v1.2h-1.2zM336.75,503.17h1.2v1.2h-1.2zM341.25,503.17h1.2v1.2h-1.2zM345.75,503.17h1.2v1.2h-1.2zM350.25,503.17h1.2v1.2h-1.2zM354.75,503.17h1.2v1.2h-1.2zM359.25,503.17h1.2v1.2h-1.2zM363.75,503.17h1.2v1.2h-1.2zM339,505.42h1.2v1.2h-1.2zM343.5,505.42h1.2v1.2h-1.2zM348,505.42h1.2v1.2h-1.2zM352.5,505.42h1.2v1.2h-1.2zM357,505.42h1.2v1.2h-1.2zM361.5,505.42h1.2v1.2h-1.2zM366,505.42h1.2v1.2h-1.2zM336.75,507.67h1.2v1.2h-1.2zM341.25,507.67h1.2v1.2h-1.2zM345.75,507.67h1.2v1.2h-1.2zM350.25,507.67h1.2v1.2h-1.2zM354.75,507.67h1.2v1.2h-1.2zM359.25,507.67h1.2v1.2h-1.2zM363.75,507.67h1.2v1.2h-1.2zM339,509.92h1.2v1.2h-1.2zM343.5,509.92h1.2v1.2h-1.2zM348,509.92h1.2v1.2h-1.2zM352.5,509.92h1.2v1.2h-1.2zM357,509.92h1.2v1.2h-1.2zM361.5,509.92h1.2v1.2h-1.2zM366,509.92h1.2v1.2h-1.2zM336.75,512.17h1.2v1.2h-1.2zM341.25,512.17h1.2v1.2h-1.2zM345.75,512.17h1.2v1.2h-1.2zM350.25,512.17h1.2v1.2h-1.2zM354.75,512.17h1.2v1.2h-1.2zM359.25,512.17h1.2v1.2h-1.2zM363.75,512.17h1.2v1.2h-1.2zM339,514.42h1.2v1.2h-1.2zM343.5,514.42h1.2v1.2h-1.2zM348,514.42h1.2v1.2h-1.2zM352.5,514.42h1.2v1.2h-1.2zM357,514.42h1.2v1.2h-1.2zM361.5,514.42h1.2v1.2h-1.2zM366,514.42h1.2v1.2h-1.2zM336.75,516.67h1.2v1.2h-1.2zM341.25,516.67h1.2v1.2h-1.2zM345.75,516.67h1.2v1.2h-1.2zM350.25,516.67h1.2v1.2h-1.2zM354.75,516.67h1.2v1.2h-1.2zM359.25,516.67h1.2v1.2h-1.2zM363.75,516.67h1.2v1.2h-1.2zM339,518.92h1.2v1.2h-1.2zM343.5,518.92h1.2v1.2h-1.2zM348,518.92h1.2v1.2h-1.2zM352.5,518.92h1.2v1.2h-1.2zM357,518.92h1.2v1.2h-1.2zM361.5,518.92h1.2v1.2h-1.2zM366,518.92h1.2v1.2h-1.2zM336.75,521.17h1.2v1.2h-1.2zM341.25,521.17h1.2v1.2h-1.2zM345.75,521.17h1.2v1.2h-1.2zM350.25,521.17h1.2v1.2h-1.2zM354.75,521.17h1.2v1.2h-1.2zM359.25,521.17h1.2v1.2h-1.2zM363.75,521.17h1.2v1.2h-1.2zM339,523.42h1.2v1.2h-1.2zM343.5,523.42h1.2v1.2h-1.2zM348,523.42h1.2v1.2h-1.2zM352.5,523.42h1.2v1.2h-1.2zM357,523.42h1.2v1.2h-1.2zM361.5,523.42h1.2v1.2h-1.2zM366,523.42h1.2v1.2h-1.2zM336.75,525.67h1.2v1.2h-1.2zM341.25,525.67h1.2v1.2h-1.2zM345.75,525.67h1.2v1.2h-1.2zM350.25,525.67h1.2v1.2h-1.2zM354.75,525.67h1.2v1.2h-1.2zM359.25,525.67h1.2v1.2h-1.2zM363.75,525.67h1.2v1.2h-1.2zM339,527.92h1.2v1.2h-1.2zM343.5,527.92h1.2v1.2h-1.2zM348,527.92h1.2v1.2h-1.2zM352.5,527.92h1.2v1.2h-1.2zM357,527.92h1.2v1.2h-1.2zM361.5,527.92h1.2v1.2h-1.2zM366,527.92h1.2v1.2h-1.2zM336.75,530.17h1.2v1.2h-1.2zM341.25,530.17h1.2v1.2h-1.2zM345.75,530.17h1.2v1.2h-1.2zM350.25,530.17h1.2v1.2h-1.2zM354.75,530.17h1.2v1.2h-1.2zM359.25,530.17h1.2v1.2h-1.2zM363.75,530.17h1.2v1.2h-1.2zM339,532.42h1.2v1.2h-1.2zM343.5,532.42h1.2v1.2h-1.2zM348,532.42h1.2v1.2h-1.2zM352.5,532.42h1.2v1.2h-1.2zM357,532.42h1.2v1.2h-1.2zM361.5,532.42h1.2v1.2h-1.2zM366,532.42h1.2v1.2h-1.2zM336.75,534.67h1.2v1.2h-1.2zM341.25,534.67h1.2v1.2h-1.2zM345.75,534.67h1.2v1.2h-1.2zM350.25,534.67h1.2v1.2h-1.2zM354.75,534.67h1.2v1.2h-1.2zM359.25,534.67h1.2v1.2h-1.2zM363.75,534.67h1.2v1.2h-1.2zM339,536.92h1.2v1.2h-1.2zM343.5,536.92h1.2v1.2h-1.2zM348,536.92h1.2v1.2h-1.2zM352.5,536.92h1.2v1.2h-1.2zM357,536.92h1.2v1.2h-1.2zM361.5,536.92h1.2v1.2h-1.2zM366,536.92h1.2v1.2h-1.2zM336.75,539.17h1.2v1.2h-1.2zM341.25,539.17h1.2v1.2h-1.2zM345.75,539.17h1.2v1.2h-1.2zM350.25,539.17h1.2v1.2h-1.2zM354.75,539.17h1.2v1.2h-1.2zM359.25,539.17h1.2v1.2h-1.2zM363.75,539.17h1.2v1.2h-1.2zM339,541.42h1.2v1.2h-1.2zM343.5,541.42h1.2v1.2h-1.2zM348,541.42h1.2v1.2h-1.2zM352.5,541.42h1.2v1.2h-1.2zM357,541.42h1.2v1.2h-1.2zM361.5,541.42h1.2v1.2h-1.2zM366,541.42h1.2v1.2h-1.2z"/>
<rect x="336.5" y="434.26" width="31.1" height="108.64" fill="none" stroke="#000" stroke-width="1.45"/>
<rect x="274.93" y="366.08" width="29.98" height="176.82" fill="#000" stroke="#000" stroke-width="1.45"/>
<rect x="48.4" y="542.25" width="327.3" height="1.3" fill="#111"/>
<rect x="42.2" y="542.15" width="6.4" height="1.3" fill="#111"/>
<text transform="translate(30.58,547.55) scale(1.1564,1)" class="tk" font-size="11.5">0</text>
<rect x="42.2" y="489.77" width="6.4" height="1.3" fill="#111"/>
<text transform="translate(22.51,495.17) scale(1.1180,1)" class="tk" font-size="11.5">2</text>
<text transform="translate(32.12,495.17) scale(1.0957,1)" class="tk" font-size="11.5">5</text>
<rect x="42.2" y="437.4" width="6.4" height="1.3" fill="#111"/>
<text transform="translate(22.93,442.8) scale(1.0783,1)" class="tk" font-size="11.5">5</text>
<text transform="translate(32.35,442.8) scale(1.1295,1)" class="tk" font-size="11.5">0</text>
<rect x="42.2" y="385.02" width="6.4" height="1.3" fill="#111"/>
<text transform="translate(22.68,390.42) scale(1.1350,1)" class="tk" font-size="11.5">7</text>
<text transform="translate(32.23,390.42) scale(1.0696,1)" class="tk" font-size="11.5">5</text>
<rect x="42.2" y="332.65" width="6.4" height="1.3" fill="#111"/>
<text transform="translate(14.45,338.05) scale(0.9436,1)" class="tk" font-size="11.5">1</text>
<text transform="translate(23.95,338.05) scale(1.1295,1)" class="tk" font-size="11.5">0</text>
<text transform="translate(32.65,338.05) scale(1.1116,1)" class="tk" font-size="11.5">0</text>
<rect x="101.95" y="543" width="1.3" height="6" fill="#111"/>
<rect x="211.35" y="543" width="1.3" height="6" fill="#111"/>
<rect x="320.65" y="543" width="1.3" height="6" fill="#111"/>
<text transform="translate(43.97,307.1) scale(1.1010,1)" class="sb" font-size="20.2" style="stroke-width:0.7px">B</text>
<text transform="translate(72.75,564) scale(1.1955,1)" class="sb" font-size="14">Medium</text>
<text transform="translate(172.23,564) scale(1.0438,1)" class="sb" font-size="14">fMLP</text>
<text transform="translate(215.32,564) scale(1.4093,1)" class="sb" font-size="14">1</text>
<text transform="translate(230.55,564) scale(1.0906,1)" class="sr" font-size="15.5">μ</text>
<text transform="translate(239.5,564) scale(0.9313,1)" class="sb" font-size="14">M</text>
<text transform="translate(276.83,564) scale(1.0438,1)" class="sb" font-size="14">fMLP</text>
<text transform="translate(320.46,564) scale(1.2833,1)" class="sb" font-size="14">10</text>
<text transform="translate(344.19,564) scale(1.0599,1)" class="sr" font-size="15.5">μ</text>
<text transform="translate(353.2,564) scale(0.9313,1)" class="sb" font-size="14">M</text>
<text transform="translate(14.2,512.6) rotate(-90) scale(0.9441,1)" class="sb" font-size="17">%</text>
<text transform="translate(14.2,494.3) rotate(-90) scale(1.1614,1)" class="sb" font-size="17">Rosette</text>
<text transform="translate(14.2,426.79) rotate(-90) scale(1.0798,1)" class="sb" font-size="17">formation</text>
</g>
<rect x="388" y="344" width="12.9" height="12.9" fill="#000"/>
<text transform="translate(414.13,356) scale(1.3090,1)" class="sb" font-size="13.2">control</text>
<path d="M472.8,352.45h7v1.7h-7z M475.45,349.8h1.7v7h-1.7z" fill="#000"/>
<text transform="translate(485.99,356) scale(1.0379,1)" class="sb" font-size="13.2">MED</text>
<rect x="388.75" y="373.75" width="11.4" height="11.4" fill="#fff" stroke="#000" stroke-width="1.5"/>
<path d="M388.9,384.2 L399.8,374.4 M397.5,384.9 L399.9,382.5" stroke="#000" stroke-width="1.25"/>
<text transform="translate(414.15,385) scale(1.2736,1)" class="sb" font-size="13.2">control</text>
<path d="M470.5,381.45h6.9v1.7h-6.9z M473.1,378.85h1.7v6.9h-1.7z" fill="#000"/>
<text transform="translate(481.27,385) scale(1.0667,1)" class="sb" font-size="13.2">CLB</text>
<clipPath id="c7"><rect x="388.75" y="402.85" width="11.4" height="11.4"/></clipPath>
<rect x="388.75" y="402.85" width="11.4" height="11.4" fill="#f9f9f9"/>
<path clip-path="url(#c7)" fill="#1a1a1a" d="M388.15,402.75h1.2v1.2h-1.2zM392.65,402.75h1.2v1.2h-1.2zM397.15,402.75h1.2v1.2h-1.2zM390.4,405h1.2v1.2h-1.2zM394.9,405h1.2v1.2h-1.2zM399.4,405h1.2v1.2h-1.2zM388.15,407.25h1.2v1.2h-1.2zM392.65,407.25h1.2v1.2h-1.2zM397.15,407.25h1.2v1.2h-1.2zM390.4,409.5h1.2v1.2h-1.2zM394.9,409.5h1.2v1.2h-1.2zM399.4,409.5h1.2v1.2h-1.2zM388.15,411.75h1.2v1.2h-1.2zM392.65,411.75h1.2v1.2h-1.2zM397.15,411.75h1.2v1.2h-1.2zM390.4,414h1.2v1.2h-1.2zM394.9,414h1.2v1.2h-1.2zM399.4,414h1.2v1.2h-1.2z"/>
<rect x="388.75" y="402.85" width="11.4" height="11.4" fill="none" stroke="#000" stroke-width="1.5"/>
<text transform="translate(414.15,414) scale(1.2736,1)" class="sb" font-size="13.2">control</text>
<path d="M471.2,410.45h6.9v1.7h-6.9z M473.8,407.85h1.7v6.9h-1.7z" fill="#000"/>
<text transform="translate(482.46,414) scale(1.3609,1)" class="sb" font-size="13.2">IV.3</text>
</svg></body></html>
